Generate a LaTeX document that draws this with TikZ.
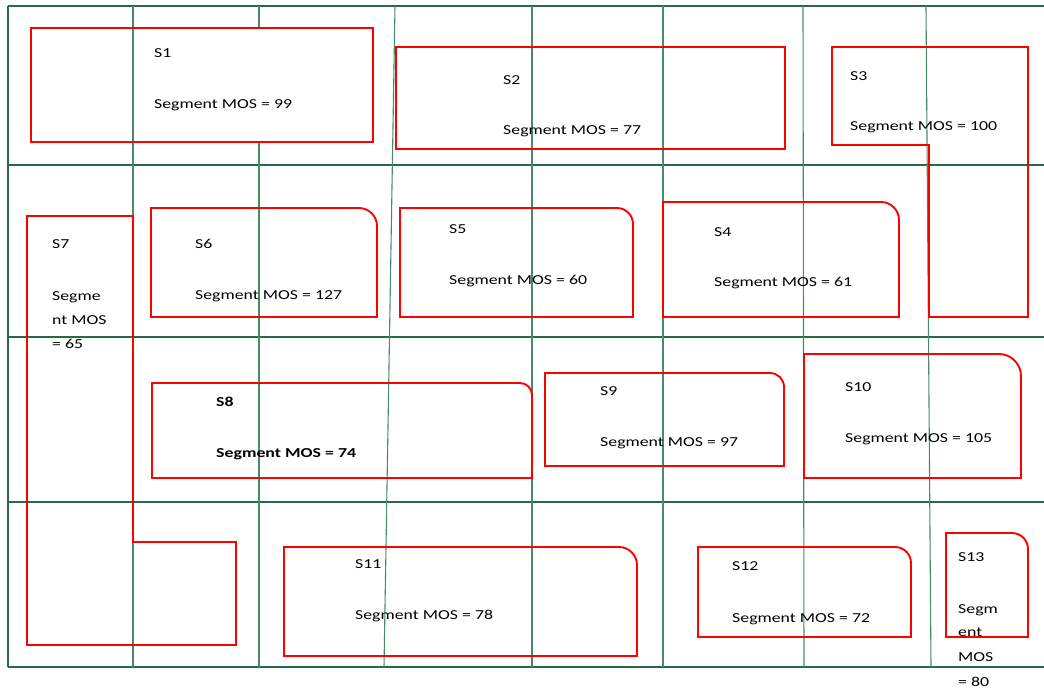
\documentclass[tikz,border=0pt]{standalone}
\usepackage{fontspec}
\newfontfamily\segfont{Carlito}[FakeStretch=1.3]
\usetikzlibrary{positioning}
\definecolor{gridgreen}{RGB}{70,140,105}
\definecolor{rowgreen}{RGB}{40,105,72}
\definecolor{segred}{RGB}{255,0,0}
\tikzset{
	gridline/.style={gridgreen, line width=1.1pt}
}
\tikzset{
	rowline/.style={rowgreen, line width=1.6pt}
}
\tikzset{
	segline/.style={segred, line width=1.9pt, line join=miter},
	segtext/.style={font=\segfont\fontsize{13.7}{24}\selectfont, anchor=base west, inner sep=0pt}
}
% box with a round top right corner: x1,y1 (top left), x2,y2 (bottom right), radius
\newcommand\roundseg[5]{%
  \draw[segline] (#1,#4) -- (#1,#2) -- ({#3-#5},#2)
    .. controls ({#3-0.45*#5},#2) and (#3,{#2+0.45*#5}) .. (#3,{#2+#5}) -- (#3,#4) -- cycle;}

\begin{document}
\begin{tikzpicture}[x=1pt, y=-1pt]
      \useasboundingbox (0,0) rectangle (1044,688);
      % grid of the field
      \draw[rowline] (8,6) -- (1044,6);
      \foreach \y in {165,337,502,667}
        \draw[rowline] (8,\y) -- (1044,\y);
      \draw[rowline] (8,6) -- (8,667);
      \foreach \xa/\xb in {133/133,395/384,532/532,663/663,803/804,926/931}
        \draw[gridline] (\xa,6) -- (\xb,667);
      \draw[gridline] (259,6) -- (259,28);
      \draw[gridline] (259,142) -- (259,667);

      % segments
      \draw[segline] (31,28) rectangle (373,142);
      \draw[segline] (396,47) rectangle (785,149);
      \draw[segline] (832,47) -- (1028,47) -- (1028,317) -- (929,317) -- (929,145) -- (832,145) -- cycle;
      \roundseg{663}{202}{899}{317}{18}
      \roundseg{400}{208}{633}{317}{16}
      \roundseg{151}{208}{377}{317}{18}
      \draw[segline] (27,216) -- (133,216) -- (133,542) -- (236,542) -- (236,645) -- (27,645) -- cycle;
      \roundseg{152}{383}{532}{478}{12}
      \roundseg{545}{373}{784}{466}{14}
      \roundseg{804}{354}{1021}{478}{22}
      \roundseg{284}{547}{637}{656}{18}
      \roundseg{698}{547}{911}{637}{16}
      \roundseg{946}{533}{1028}{637}{16}

      % labels
      \node[segtext] (s1) at (154,57) {S1};
      \node[segtext] (mos1) at (154,108) {Segment MOS = 99};
      \node[segtext] (s2) at (503,84) {S2};
      \node[segtext] (mos2) at (503,134) {Segment MOS = 77};
      \node[segtext] (s3) at (850,80) {S3};
      \node[segtext] (mos3) at (850,130) {Segment MOS = 100};
      \node[segtext] (s4) at (714,236) {S4};
      \node[segtext] (mos4) at (714,286) {Segment MOS = 61};
      \node[segtext] (s5) at (449,233) {S5};
      \node[segtext] (mos5) at (449,284) {Segment MOS = 60};
      \node[segtext] (s6) at (195,248) {S6};
      \node[segtext] (mos6) at (195,299) {Segment MOS = 127};
      \node[segtext] (s7) at (52,248) {S7};
      \node[segtext] (mos7a) at (52,300) {Segme};
      \node[segtext] (mos7b) at (52,324) {nt MOS};
      \node[segtext] (mos7c) at (52,348) {= 65};
      \node[segtext, font=\segfont\bfseries\fontsize{13.7}{24}\selectfont] (s8) at (216,406) {S8};
      \node[segtext, font=\segfont\bfseries\fontsize{13.7}{24}\selectfont] (mos8) at (216,457) {Segment MOS = 74};
      \node[segtext] (s9) at (600,395) {S9};
      \node[segtext] (mos9) at (600,446) {Segment MOS = 97};
      \node[segtext] (s10) at (845,391) {S10};
      \node[segtext] (mos10) at (845,442) {Segment MOS = 105};
      \node[segtext] (s11) at (355,568) {S11};
      \node[segtext] (mos11) at (355,619) {Segment MOS = 78};
      \node[segtext] (s12) at (732,570) {S12};
      \node[segtext] (mos12) at (732,622) {Segment MOS = 72};
      \node[segtext] (s13) at (958,561) {S13};
      \node[segtext] (mos13a) at (958,613) {Segm};
      \node[segtext] (mos13b) at (958,636) {ent};
      \node[segtext] (mos13c) at (958,661) {MOS};
      \node[segtext] (mos13d) at (958,686) {= 80};
    \end{tikzpicture}
\end{document}
